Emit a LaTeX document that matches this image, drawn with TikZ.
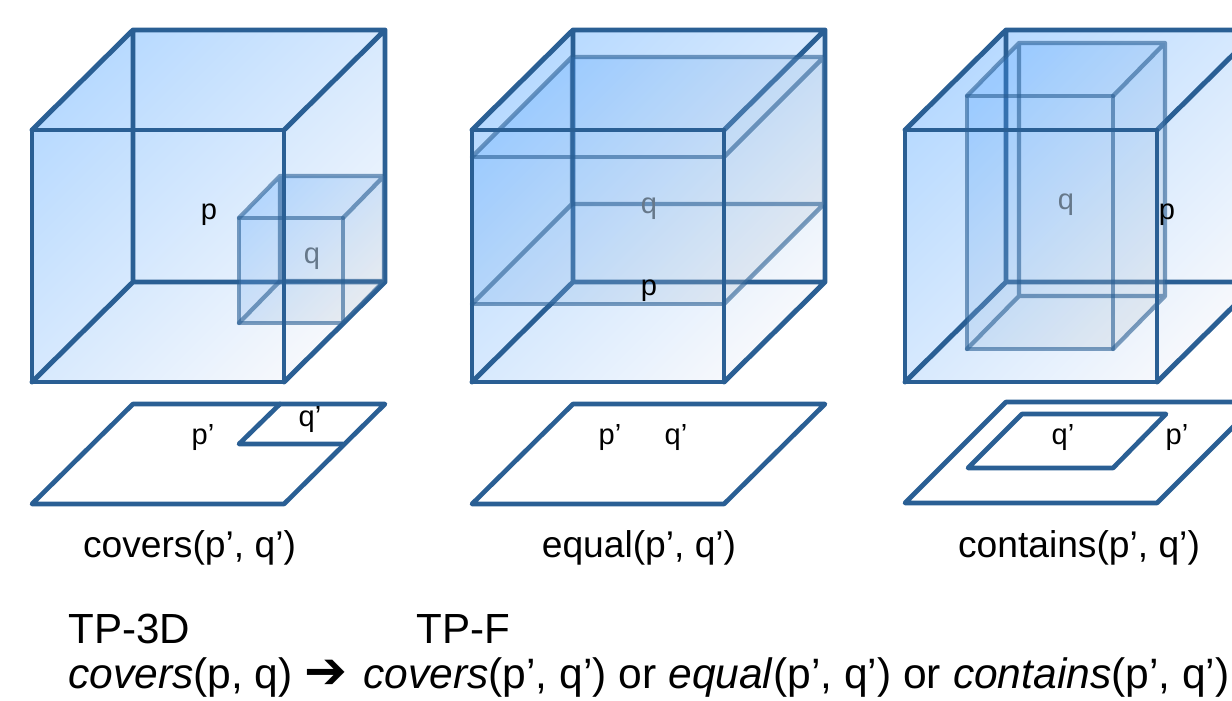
\documentclass[tikz,border=0pt]{standalone}
\usepackage{fontspec}
\setmainfont{Liberation Sans}
\newfontfamily\symfont{DejaVu Sans}
\definecolor{edgeblue}{HTML}{2A5F94}
\definecolor{graytext}{HTML}{66788A}
\definecolor{B1}{HTML}{B8DAFF}
\definecolor{B2}{HTML}{CBE4FD}
\definecolor{B3}{HTML}{F6F8FC}
\definecolor{I1}{HTML}{4A9FFF}
\definecolor{I2}{HTML}{BCC8D4}
\tikzset{
  x=0.75pt,y=-0.75pt,
  outerfill/.style={top color=B1,middle color=B2,bottom color=B3,shading angle=45},
  innerfill/.style={top color=I1,bottom color=I2,shading angle=45,opacity=.27},
  outeredge/.style={draw=edgeblue,line width=3.7pt,line join=round,line cap=round},
  inneredge/.style={draw=edgeblue,opacity=.6,line width=3.2pt,line join=round,line cap=round},
  thickinner/.style={draw=edgeblue,opacity=.6,line width=3.6pt,line join=round,line cap=round},
  footedge/.style={draw=edgeblue,line width=3.5pt,line join=round,line cap=round},
  small/.style={inner sep=0pt,anchor=base,font=\fontsize{21.8}{26}\selectfont},
  caption/.style={inner sep=0pt,anchor=base,font=\fontsize{27.9}{33}\selectfont},
  headtext/.style={inner sep=0pt,anchor=base west,font=\fontsize{31.6}{38}\selectfont},
  bottomtext/.style={inner sep=0pt,anchor=base west,font=\fontsize{31.9}{38}\selectfont},
}
% #1 style, #2 x1, #3 y1, #4 x2, #5 y2, #6 dx, #7 dy : silhouette path
\newcommand{\silh}[7]{\shade[#1] (#2,#3) -- (#2+#6,#3+#7) -- (#4+#6,#3+#7) -- (#4+#6,#5+#7) -- (#4,#5) -- (#2,#5) -- cycle;}
% hidden part of a box
\newcommand{\backpart}[7]{\draw[#1] (#2+#6,#3+#7) rectangle (#4+#6,#5+#7)
   (#2,#3) -- (#2+#6,#3+#7) (#4,#3) -- (#4+#6,#3+#7) (#2,#5) -- (#2+#6,#5+#7) (#4,#5) -- (#4+#6,#5+#7);}
\newcommand{\frontpart}[5]{\draw[#1] (#2,#3) rectangle (#4,#5);}
\begin{document}
\begin{tikzpicture}
\useasboundingbox (0,0) rectangle (1232,700);
\clip (0,0) rectangle (1232,700);
\fill[white] (0,0) rectangle (1232,700);

% ---------- covers
\silh{outerfill}{32}{130}{284}{382}{101}{-100}
\backpart{outeredge}{32}{130}{284}{382}{101}{-100}
\silh{innerfill}{239}{218}{343}{323}{41}{-42}
\backpart{inneredge}{239}{218}{343}{323}{41}{-42}
\frontpart{inneredge}{239}{218}{343}{323}
\frontpart{outeredge}{32}{130}{284}{382}
\node[small] (p1) at (209,219) {p};
\node[small,text=graytext] (q1) at (312,263) {q};
\draw[footedge] (32,504) -- (284,504) -- (385,404) -- (133,404) -- cycle;
\draw[footedge] (280,404) -- (239,444) -- (343,444);
\node[small] (pp1) at (203,444) {p’};
\node[small] (qq1) at (310,426) {q’};
\node[caption] (c1) at (189.5,557) {covers(p’, q’)};

% ---------- equal
\silh{outerfill}{472}{130}{724}{382}{101}{-100}
\backpart{outeredge}{472}{130}{724}{382}{101}{-100}
\silh{innerfill}{472}{157}{724}{304}{100}{-100}
\backpart{inneredge}{472}{157}{724}{304}{100}{-100}
\frontpart{thickinner}{472}{157}{724}{304}
\frontpart{outeredge}{472}{130}{724}{382}
\node[small,text=graytext] (q2) at (649,213) {q};
\node[small] (p2) at (649,295) {p};
\draw[footedge] (472,504) -- (724,504) -- (825,404) -- (573,404) -- cycle;
\node[small] (pp2) at (610,444) {p’};
\node[small] (qq2) at (676,444) {q’};
\node[caption] (c2) at (639,557) {equal(p’, q’)};

% ---------- contains
\silh{outerfill}{905}{130}{1157}{382}{101}{-100}
\backpart{outeredge}{905}{130}{1157}{382}{101}{-100}
\silh{innerfill}{967}{96}{1113}{349}{52}{-53}
\backpart{inneredge}{967}{96}{1113}{349}{52}{-53}
\frontpart{thickinner}{967}{96}{1113}{349}
\frontpart{outeredge}{905}{130}{1157}{382}
\node[small,text=graytext] (q3) at (1066,209) {q};
\node[small] (p3) at (1167,219) {p};
\draw[footedge] (905,503) -- (1157,503) -- (1258,402) -- (1006,402) -- cycle;
\draw[footedge] (968,468) -- (1113,468) -- (1166,414) -- (1022,414) -- cycle;
\node[small] (qq3) at (1063,444) {q’};
\node[small] (pp3) at (1177,444) {p’};
\node[caption] (c3) at (1079,557) {contains(p’, q’)};

% ---------- bottom text
\node[headtext] (tp3d) at (68,643) {TP-3D};
\node[headtext] (tpf) at (416,643) {TP-F};
\node[bottomtext] (rule) at (68,688) {\textit{covers}(p, q) {\symfont\fontsize{38.5}{40}\selectfont ➔}\hspace{3pt} \textit{covers}(p’, q’) or \textit{equal}(p’, q’) or \textit{contains}(p’, q’)};
\end{tikzpicture}
\end{document}
